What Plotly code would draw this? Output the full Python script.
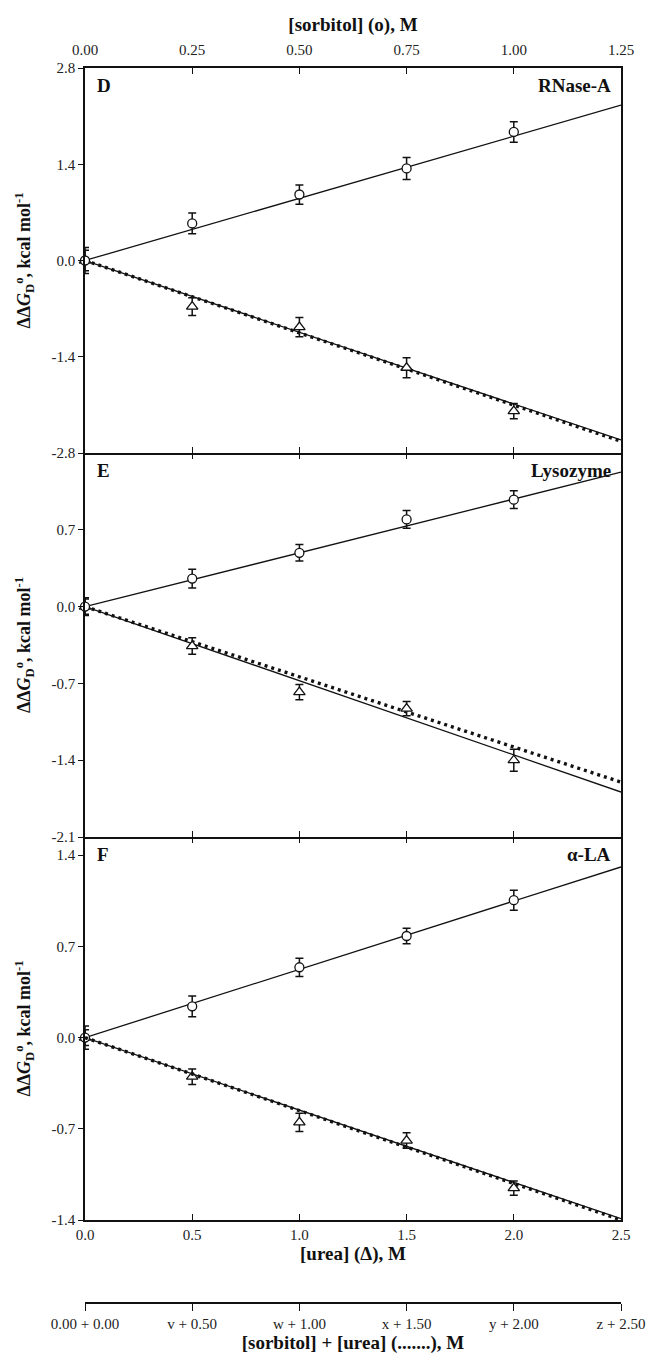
import plotly.graph_objects as go

# ---------------- data ----------------
urea = [0.0, 0.5, 1.0, 1.5, 2.0]
sorbitol = [0.0, 0.25, 0.50, 0.75, 1.00]
fit_urea_x = [0.0, 2.5]
fit_sorb_x = [0.0, 1.25]

# Panel D : RNase-A
d_sorb = [0.0, 0.54, 0.96, 1.34, 1.87]
d_sorb_err = [0.15, 0.15, 0.14, 0.16, 0.15]
d_urea = [0.0, -0.67, -0.97, -1.56, -2.19]
d_urea_err = [0.19, 0.13, 0.14, 0.145, 0.11]
d_fit_sorb = [0.0, 2.26]
d_fit_urea = [0.0, -2.61]
d_fit_mix = [0.0, -2.63]

# Panel E : Lysozyme
e_sorb = [0.0, 0.255, 0.49, 0.795, 0.975]
e_sorb_err = [0.08, 0.085, 0.075, 0.08, 0.08]
e_urea = [0.0, -0.36, -0.78, -0.93, -1.40]
e_urea_err = [0.07, 0.075, 0.07, 0.065, 0.10]
e_fit_sorb = [0.0, 1.225]
e_fit_urea = [0.0, -1.69]
e_fit_mix = [0.0, -1.60]

# Panel F : alpha-LA
f_sorb = [0.0, 0.24, 0.54, 0.78, 1.055]
f_sorb_err = [0.09, 0.08, 0.07, 0.06, 0.077]
f_urea = [0.0, -0.30, -0.65, -0.79, -1.155]
f_urea_err = [0.06, 0.06, 0.07, 0.06, 0.055]
f_fit_sorb = [0.0, 1.31]
f_fit_urea = [0.0, -1.39]
f_fit_mix = [0.0, -1.40]

# ticks
urea_ticks = [0.0, 0.5, 1.0, 1.5, 2.0, 2.5]
urea_ticktext = ["0.0", "0.5", "1.0", "1.5", "2.0", "2.5"]
sorb_ticks = [0.0, 0.25, 0.50, 0.75, 1.00, 1.25]
sorb_ticktext = ["0.00", "0.25", "0.50", "0.75", "1.00", "1.25"]
mix_ticktext = ["0.00 + 0.00", "v + 0.50", "w + 1.00", "x + 1.50", "y + 2.00", "z + 2.50"]
d_yticks = [-2.8, -1.4, 0.0, 1.4, 2.8]
d_yticktext = ["-2.8", "-1.4", "0.0", "1.4", "2.8"]
e_yticks = [-2.1, -1.4, -0.7, 0.0, 0.7]
e_yticktext = ["-2.1", "-1.4", "-0.7", "0.0", "0.7"]
f_yticks = [-1.4, -0.7, 0.0, 0.7, 1.4]
f_yticktext = ["-1.4", "-0.7", "0.0", "0.7", "1.4"]

panels = [
    dict(ax="", sx="4", mx="", letter="D", name="RNase-A",
         sorb=d_sorb, sorb_err=d_sorb_err, urea_v=d_urea, urea_err=d_urea_err,
         fs=d_fit_sorb, fu=d_fit_urea, fm=d_fit_mix),
    dict(ax="2", sx="5", mx="2", letter="E", name="Lysozyme",
         sorb=e_sorb, sorb_err=e_sorb_err, urea_v=e_urea, urea_err=e_urea_err,
         fs=e_fit_sorb, fu=e_fit_urea, fm=e_fit_mix),
    dict(ax="3", sx="6", mx="7", letter="F", name="α-LA",
         sorb=f_sorb, sorb_err=f_sorb_err, urea_v=f_urea, urea_err=f_urea_err,
         fs=f_fit_sorb, fu=f_fit_urea, fm=f_fit_mix),
]

FONT = "Liberation Serif"
INK = "#111111"

fig = go.Figure()

for p in panels:
    xa = "x" + p["ax"]
    ya = "y" + p["ax"]
    xs = "x" + p["sx"]
    xm = "x" + p["mx"]
    # fit lines
    fig.add_trace(go.Scatter(x=fit_sorb_x, y=p["fs"], xaxis=xs, yaxis=ya, mode="lines",
                             line=dict(color=INK, width=1.3), showlegend=False, hoverinfo="skip"))
    fig.add_trace(go.Scatter(x=fit_urea_x, y=p["fu"], xaxis=xa, yaxis=ya, mode="lines",
                             line=dict(color=INK, width=1.3), showlegend=False, hoverinfo="skip"))
    fig.add_trace(go.Scatter(x=fit_urea_x, y=p["fm"], xaxis=xm, yaxis=ya, mode="lines",
                             line=dict(color=INK, width=3.4, dash="3px,4px"),
                             showlegend=False, hoverinfo="skip"))
    # data points
    fig.add_trace(go.Scatter(x=sorbitol, y=p["sorb"], xaxis=xs, yaxis=ya, mode="markers",
                             marker=dict(symbol="circle", size=9, color="white",
                                         line=dict(color=INK, width=1.3)),
                             error_y=dict(type="data", array=p["sorb_err"], visible=True,
                                          color=INK, thickness=1.5, width=4),
                             cliponaxis=False, showlegend=False))
    fig.add_trace(go.Scatter(x=urea, y=p["urea_v"], xaxis=xa, yaxis=ya, mode="markers",
                             marker=dict(symbol="triangle-up", size=10, color="white",
                                         line=dict(color=INK, width=1.3)),
                             error_y=dict(type="data", array=p["urea_err"], visible=True,
                                          color=INK, thickness=1.5, width=4),
                             cliponaxis=False, showlegend=False))

# ---------------- layout ----------------
W, H = 656, 1360
ML, MR, MT, MB = 77, 43, 60, 65
ph = H - MT - MB

def frac(py):
    return (H - MB - py) / ph

d_dom = [frac(445), 1.0]
e_dom = [frac(829), frac(445)]
f_dom = [frac(1212), frac(829)]

tickfont = dict(family=FONT, size=15, color="#222222")
titlefont = dict(family=FONT, size=19, color=INK)

base_x = dict(range=[0, 2.5], showline=True, linecolor=INK, linewidth=1.6,
              ticks="inside", ticklen=6, tickwidth=1.4, tickcolor=INK,
              tickvals=urea_ticks, ticktext=urea_ticktext, showgrid=False,
              zeroline=False, tickfont=tickfont, domain=[0, 1])
sorb_x = dict(range=[0, 1.25], showline=False,
              ticks="inside", ticklen=6, tickwidth=1.4, tickcolor=INK,
              tickvals=sorb_ticks, ticktext=sorb_ticktext, showgrid=False,
              zeroline=False, tickfont=tickfont, side="top")

ytitle = "<b>ΔΔ<i>G</i><sub>D</sub><sup>o</sup>, kcal mol<sup>-1</sup></b>"

def yax(dom, rng, tv, tt):
    return dict(domain=dom, range=rng, tickvals=tv, ticktext=tt, showline=True,
                linecolor=INK, linewidth=1.6, mirror=True, ticks="outside",
                ticklen=5, tickwidth=1.4, tickcolor=INK, showgrid=False,
                zeroline=False, tickfont=tickfont,
                title=dict(text=ytitle, font=dict(family=FONT, size=18, color=INK), standoff=16))

fig.update_layout(
    width=W, height=H,
    margin=dict(l=ML, r=MR, t=MT, b=MB),
    paper_bgcolor="white", plot_bgcolor="white",
    font=dict(family=FONT, color=INK),
    xaxis=dict(base_x, anchor="y", showticklabels=False),
    xaxis2=dict(base_x, anchor="y2", showticklabels=False),
    xaxis3=dict(base_x, anchor="y3", showticklabels=True,
                title=dict(text="<b>[urea] (Δ), M</b>", font=titlefont, standoff=2)),
    xaxis4=dict(sorb_x, anchor="y", overlaying="x", showticklabels=True, showline=True,
                linecolor=INK, linewidth=1.6, ticklabelstandoff=5,
                title=dict(text="<b>[sorbitol] (o), M</b>", font=titlefont, standoff=6)),
    xaxis5=dict(sorb_x, anchor="y2", overlaying="x2", showticklabels=False),
    xaxis6=dict(sorb_x, anchor="y3", overlaying="x3", showticklabels=False),
    xaxis7=dict(range=[0, 2.5], overlaying="x3", anchor="free", position=0, side="bottom",
                showline=True, linecolor=INK, linewidth=1.6, ticks="outside", ticklen=7,
                tickwidth=1.4, tickcolor=INK, tickvals=urea_ticks, ticktext=mix_ticktext,
                showgrid=False, zeroline=False, tickfont=tickfont,
                title=dict(text="<b>[sorbitol] + [urea] (.......), M</b>", font=titlefont,
                           standoff=2)),
    yaxis=yax(d_dom, [-2.8, 2.8], d_yticks, d_yticktext),
    yaxis2=yax(e_dom, [-2.1, 1.4], e_yticks, e_yticktext),
    yaxis3=yax(f_dom, [-1.4, 1.54], f_yticks, f_yticktext),
)

for p in panels:
    xa = "x" + p["ax"]
    ya = "y" + p["ax"]
    fig.add_annotation(text="<b>" + p["letter"] + "</b>", xref=xa + " domain", yref=ya + " domain",
                       x=0.018, y=0.955, xanchor="left", yanchor="middle", showarrow=False,
                       font=dict(family=FONT, size=19, color=INK))
    fig.add_annotation(text="<b>" + p["name"] + "</b>", xref=xa + " domain", yref=ya + " domain",
                       x=0.985, y=0.955, xanchor="right", yanchor="middle", showarrow=False,
                       font=dict(family=FONT, size=19, color=INK))

fig.write_html("out.html")
